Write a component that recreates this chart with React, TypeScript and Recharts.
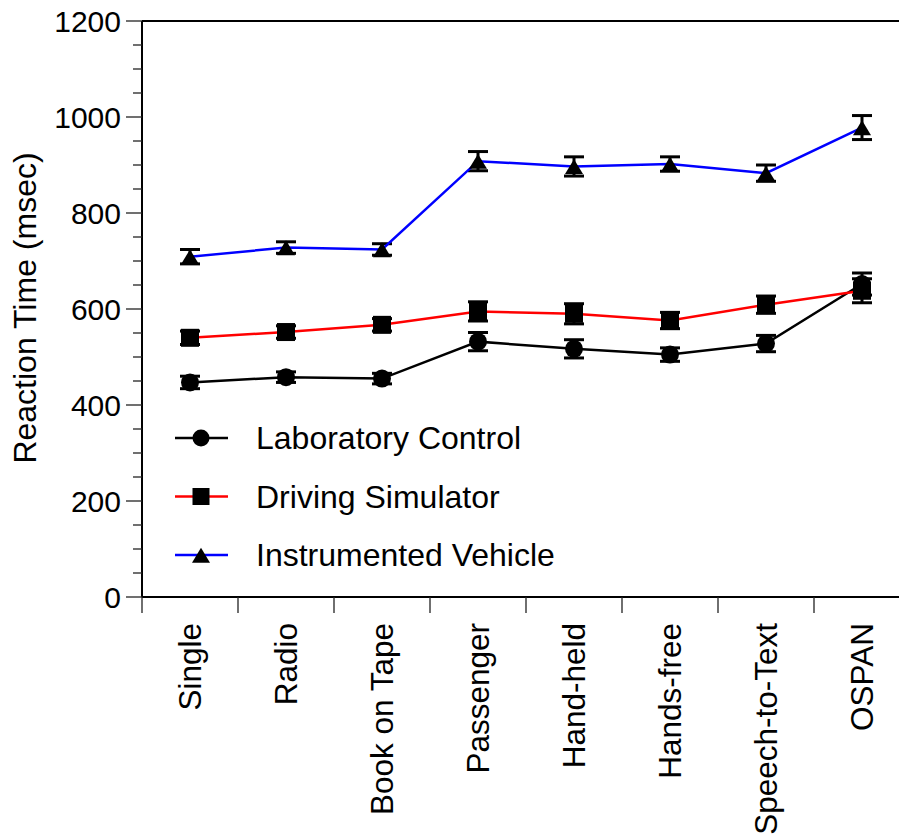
import React from 'react'
import { ComposedChart, Line, XAxis, YAxis, ErrorBar, Legend, ReferenceLine } from 'recharts'

const categories = ['Single', 'Radio', 'Book on Tape', 'Passenger', 'Hand-held', 'Hands-free', 'Speech-to-Text', 'OSPAN']

const labControl = [447, 458, 455, 532, 517, 505, 528, 652]
const labControlErr = [13, 11, 11, 19, 19, 14, 17, 23]
const drivingSim = [540, 552, 567, 595, 590, 576, 609, 638]
const drivingSimErr = [14, 13, 13, 20, 21, 17, 18, 25]
const instrVehicle = [709, 728, 724, 908, 897, 902, 883, 978]
const instrVehicleErr = [15, 12, 12, 20, 20, 15, 17, 25]

const yMajorTicks = [0, 200, 400, 600, 800, 1000, 1200]
const yMinorTicks = [50, 100, 150, 250, 300, 350, 450, 500, 550, 650, 700, 750, 850, 900, 950, 1050, 1100, 1150]

const FONT = '"Liberation Sans", Arial, Helvetica, sans-serif'
const CHART_W = 920
const CHART_H = 839
const AXIS_W = 142
const RIGHT_PAD = 10
const BAND_HALF = (CHART_W - AXIS_W - RIGHT_PAD) / categories.length / 2

type Shape = 'circle' | 'square' | 'triangle'

const series: { key: string; err: string; name: string; color: string; shape: Shape }[] = [
  { key: 'lab', err: 'labErr', name: 'Laboratory Control', color: '#000000', shape: 'circle' },
  { key: 'sim', err: 'simErr', name: 'Driving Simulator', color: '#ff0000', shape: 'square' },
  { key: 'veh', err: 'vehErr', name: 'Instrumented Vehicle', color: '#0000ff', shape: 'triangle' },
]

const data = categories.map((name, i) => ({
  name,
  lab: labControl[i],
  labErr: labControlErr[i],
  sim: drivingSim[i],
  simErr: drivingSimErr[i],
  veh: instrVehicle[i],
  vehErr: instrVehicleErr[i],
}))

function Marker({ shape, cx, cy, size }: { shape: Shape; cx: number; cy: number; size: number }) {
  const h = size / 2
  if (shape === 'circle') return <circle cx={cx} cy={cy} r={h} fill="#000" />
  if (shape === 'square') return <rect x={cx - h} y={cy - h} width={size} height={size} fill="#000" />
  return (
    <polygon
      points={`${cx},${cy - h * 0.85} ${cx - h - 0.5},${cy + h * 0.9} ${cx + h + 0.5},${cy + h * 0.9}`}
      fill="#000"
    />
  )
}

const makeDot = (shape: Shape, size: number) => (props: any) => {
  const { cx, cy, index } = props
  if (cx == null || cy == null) return <g key={index} />
  return <Marker key={index} shape={shape} cx={cx} cy={cy} size={size} />
}

// category ticks sit on the band boundaries, labels in the middle of each band
function CategoryTick(props: any) {
  const { x, y, payload } = props
  const bx = x - BAND_HALF
  return (
    <g>
      <line x1={bx} y1={y} x2={bx} y2={y + 16} stroke="#222" strokeWidth={1.3} />
      <text
        transform={`translate(${x},${y + 26}) rotate(-90)`}
        textAnchor="end"
        dy="0.35em"
        fontSize={31.5}
        fontFamily={FONT}
        fill="#000"
      >
        {payload.value}
      </text>
    </g>
  )
}

function ValueTick(props: any) {
  const { x, y, payload } = props
  const major = yMajorTicks.includes(payload.value)
  return (
    <g>
      <line x1={x - (major ? 16 : 9)} y1={y} x2={x} y2={y} stroke="#222" strokeWidth={1.3} />
      {major && (
        <text x={x - 21} y={y} dy="0.35em" textAnchor="end" fontSize={30} fontFamily={FONT} fill="#000">
          {payload.value}
        </text>
      )}
    </g>
  )
}

const renderLegend = () => (
  <svg width={440} height={170} style={{ display: 'block' }}>
    {series.map((s, i) => {
      const cy = 18 + i * 58.5
      return (
        <g key={s.key}>
          <line x1={5} x2={58} y1={cy} y2={cy} stroke={s.color} strokeWidth={2.5} />
          <Marker shape={s.shape} cx={31} cy={cy} size={17} />
          <text x={86} y={cy} dy="0.35em" fontSize={32} fontFamily={FONT} fill="#000">
            {s.name}
          </text>
        </g>
      )
    })}
  </svg>
)

const yTitle = () => (
  <text
    transform="translate(25,308) rotate(-90)"
    textAnchor="middle"
    dy="0.35em"
    fontSize={32}
    fontFamily={FONT}
    fill="#000"
  >
    Reaction Time (msec)
  </text>
)

export default function App() {
  const yTicks = [...yMajorTicks, ...yMinorTicks].sort((a, b) => a - b)
  return (
    <div style={{ position: 'absolute', left: 0, top: 0, width: 899, height: 839, overflow: 'hidden', background: '#fff' }}>
      <ComposedChart
        width={CHART_W}
        height={CHART_H}
        data={data}
        margin={{ top: 21, right: RIGHT_PAD, bottom: 0, left: 0 }}
      >
        <XAxis
          dataKey="name"
          interval={0}
          height={242}
          padding={{ left: BAND_HALF, right: BAND_HALF }}
          tickLine={false}
          tickSize={0}
          tickMargin={0}
          axisLine={{ stroke: '#000', strokeWidth: 2 }}
          tick={<CategoryTick />}
        />
        <YAxis
          type="number"
          domain={[0, 1200]}
          ticks={yTicks}
          interval={0}
          width={AXIS_W}
          tickLine={false}
          tickSize={0}
          tickMargin={0}
          axisLine={{ stroke: '#000', strokeWidth: 2 }}
          tick={<ValueTick />}
          label={{ content: yTitle }}
        />
        <ReferenceLine y={1200} stroke="#000" strokeWidth={2} />
        {series.map((s) => (
          <Line
            key={s.key}
            dataKey={s.key}
            name={s.name}
            stroke={s.color}
            strokeWidth={2.5}
            isAnimationActive={false}
            dot={makeDot(s.shape, s.shape === 'triangle' ? 17 : 18)}
            activeDot={false}
          >
            <ErrorBar dataKey={s.err} width={10} stroke="#000" strokeWidth={3} isAnimationActive={false} />
          </Line>
        ))}
        <Legend
          layout="horizontal"
          verticalAlign="middle"
          align="center"
          wrapperStyle={{ left: 170, top: 420, width: 440, height: 170 }}
          content={renderLegend}
        />
      </ComposedChart>
    </div>
  )
}
